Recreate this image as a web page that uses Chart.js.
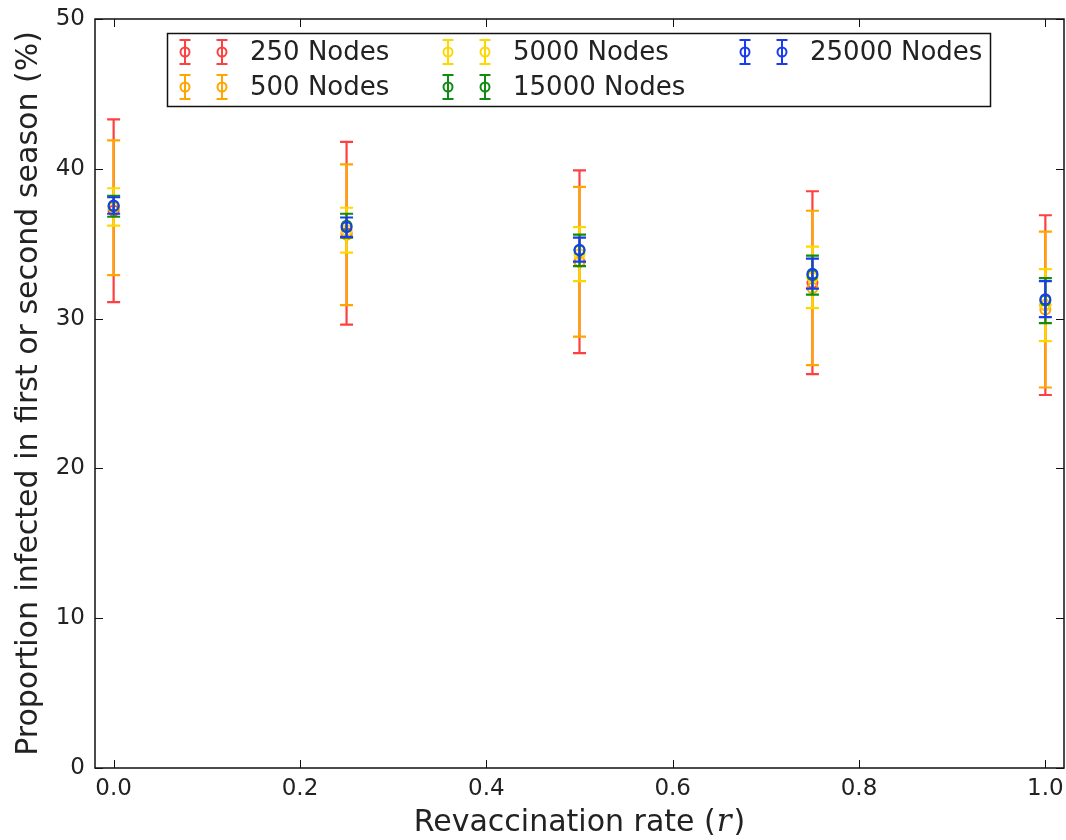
<!DOCTYPE html>
<html>
<head>
<meta charset="utf-8">
<script src="https://cdn.jsdelivr.net/npm/chart.js@4/dist/chart.umd.min.js"></script>
<style>
  html, body { margin: 0; padding: 0; background: #fff; overflow: hidden; }
  #wrap { width: 1071px; height: 840px; position: relative; }
</style>
</head>
<body>
<div id="wrap"><canvas id="errChart"></canvas></div>
<script>
// Revaccination rate on the x axis
const categories = [0.0, 0.25, 0.5, 0.75, 1.0];
const seriesLabels = ['250 Nodes', '500 Nodes', '5000 Nodes', '15000 Nodes', '25000 Nodes'];

// Mean proportion infected (%) and error half-widths per network size
const means250 = [37.2, 35.7, 33.8, 32.4, 30.9];
const errs250 = [6.1, 6.1, 6.1, 6.1, 6.0];
const means500 = [37.4, 35.6, 33.8, 32.05, 30.6];
const errs500 = [4.5, 4.7, 5.0, 5.15, 5.2];
const means5000 = [37.45, 35.9, 34.3, 32.75, 30.9];
const errs5000 = [1.25, 1.5, 1.8, 2.05, 2.4];
const means15000 = [37.5, 36.2, 34.55, 32.9, 31.2];
const errs15000 = [0.7, 0.8, 1.05, 1.3, 1.5];
const means25000 = [37.55, 36.1, 34.6, 33.0, 31.3];
const errs25000 = [0.55, 0.65, 0.8, 1.0, 1.2];

const xTicks = [0.0, 0.2, 0.4, 0.6, 0.8, 1.0];
const yTicks = [0, 10, 20, 30, 40, 50];

const colors = ['#ff4040', '#ffa500', '#ffd700', '#108c10', '#1a3cf0'];
const allMeans = [means250, means500, means5000, means15000, means25000];
const allErrs = [errs250, errs500, errs5000, errs15000, errs25000];

Chart.defaults.font.family = 'DejaVu Sans';
Chart.defaults.color = '#222';

const datasets = seriesLabels.map((label, i) => ({
    label: label,
    data: categories.map((x, j) => ({ x: x, y: allMeans[i][j] })),
    errs: allErrs[i],
    borderColor: colors[i],
    backgroundColor: 'rgba(0,0,0,0)',
    pointRadius: 5,
    pointBorderWidth: 2,
    pointHoverRadius: 5,
    showLine: false,
    order: seriesLabels.length - i
}));

function drawErrorGlyph(ctx, x, yTop, yBot, cap, color, lw) {
    ctx.strokeStyle = color;
    ctx.lineWidth = lw;
    ctx.beginPath();
    ctx.moveTo(x, yTop); ctx.lineTo(x, yBot);
    ctx.moveTo(x - cap, yTop); ctx.lineTo(x + cap, yTop);
    ctx.moveTo(x - cap, yBot); ctx.lineTo(x + cap, yBot);
    ctx.stroke();
}

// error bars are drawn right before their own dataset so stacking follows series order
const errorBars = {
    id: 'errorBars',
    beforeDatasetDraw(chart, args) {
        const ds = chart.data.datasets[args.index];
        const xs = chart.scales.x, ys = chart.scales.y;
        const ctx = chart.ctx;
        ctx.save();
        ds.data.forEach((p, j) => {
            const px = xs.getPixelForValue(p.x);
            const top = ys.getPixelForValue(p.y + ds.errs[j]);
            const bot = ys.getPixelForValue(p.y - ds.errs[j]);
            drawErrorGlyph(ctx, px, top, bot, 6.5, ds.borderColor, 2.2);
        });
        ctx.restore();
    }
};

// frame, inward ticks on all sides, x title and the boxed legend
const decorations = {
    id: 'decorations',
    afterDraw(chart) {
        const ctx = chart.ctx;
        const a = chart.chartArea;
        const xs = chart.scales.x, ys = chart.scales.y;
        ctx.save();

        ctx.strokeStyle = '#111';
        ctx.lineWidth = 1.5;
        ctx.strokeRect(a.left, a.top, a.right - a.left, a.bottom - a.top);

        ctx.lineWidth = 1;
        ctx.beginPath();
        xTicks.forEach(v => {
            const px = Math.round(xs.getPixelForValue(v)) + 0.5;
            ctx.moveTo(px, a.bottom); ctx.lineTo(px, a.bottom - 8);
            ctx.moveTo(px, a.top); ctx.lineTo(px, a.top + 8);
        });
        yTicks.forEach(v => {
            const py = Math.round(ys.getPixelForValue(v)) + 0.5;
            ctx.moveTo(a.left, py); ctx.lineTo(a.left + 8, py);
            ctx.moveTo(a.right, py); ctx.lineTo(a.right - 8, py);
        });
        ctx.stroke();

        // x axis title with italic r
        ctx.fillStyle = '#222';
        ctx.textBaseline = 'alphabetic';
        ctx.textAlign = 'left';
        const part1 = 'Revaccination rate (';
        const part2 = 'r';
        const part3 = ')';
        const sans = '30px "DejaVu Sans"';
        const ital = 'italic 31px "DejaVu Serif"';
        ctx.font = sans;
        const w1 = ctx.measureText(part1).width;
        const w3 = ctx.measureText(part3).width;
        ctx.font = ital;
        const w2 = ctx.measureText(part2).width + 3;
        const cx = (a.left + a.right) / 2;
        const tx = cx - (w1 + w2 + w3) / 2;
        const ty = 831;
        ctx.font = sans;
        ctx.fillText(part1, tx, ty);
        ctx.font = ital;
        ctx.fillText(part2, tx + w1 + 1, ty);
        ctx.font = sans;
        ctx.fillText(part3, tx + w1 + w2, ty);

        // legend
        ctx.fillStyle = '#fff';
        ctx.fillRect(167, 33, 824, 74);
        ctx.strokeStyle = '#111';
        ctx.lineWidth = 1.5;
        ctx.strokeRect(167.5, 33.5, 823, 73);

        const slots = [
            { x: 185, y: 52 }, { x: 185, y: 87 },
            { x: 448, y: 52 }, { x: 448, y: 87 },
            { x: 745, y: 52 }
        ];
        ctx.font = '26px "DejaVu Sans"';
        ctx.textBaseline = 'middle';
        seriesLabels.forEach((label, i) => {
            const s = slots[i];
            [0, 37].forEach(dx => {
                const gx = s.x + dx;
                drawErrorGlyph(ctx, gx, s.y - 12, s.y + 12, 5.5, colors[i], 2);
                ctx.beginPath();
                ctx.arc(gx, s.y, 4.5, 0, Math.PI * 2);
                ctx.stroke();
            });
            ctx.fillStyle = '#222';
            ctx.fillText(label, s.x + 65, s.y + 1);
        });

        ctx.restore();
    }
};

new Chart(document.getElementById('errChart'), {
    type: 'scatter',
    data: { datasets: datasets },
    options: {
        responsive: true,
        maintainAspectRatio: false,
        animation: false,
        events: [],
        layout: { padding: { left: 0, right: 0, top: 19, bottom: 0 } },
        plugins: {
            legend: { display: false },
            tooltip: { enabled: false }
        },
        scales: {
            x: {
                type: 'linear',
                min: -0.02,
                max: 1.02,
                afterBuildTicks: s => { s.ticks = xTicks.map(v => ({ value: v })); },
                afterFit: s => { s.height = 72; },
                grid: { display: false, drawTicks: false },
                border: { display: false },
                ticks: {
                    padding: 7,
                    font: { size: 23 },
                    color: '#222',
                    maxRotation: 0,
                    callback: v => Number(v).toFixed(1)
                }
            },
            y: {
                type: 'linear',
                min: 0,
                max: 50,
                afterBuildTicks: s => { s.ticks = yTicks.map(v => ({ value: v })); },
                afterFit: s => { s.width = 95; s.paddingTop = 0; s.paddingBottom = 0; },
                grid: { display: false, drawTicks: false },
                border: { display: false },
                ticks: {
                    padding: 10,
                    font: { size: 23 },
                    color: '#222'
                },
                title: {
                    display: true,
                    text: 'Proportion infected in first or second season (%)',
                    font: { size: 30 },
                    color: '#222',
                    padding: { top: 11, bottom: 0 }
                }
            }
        }
    },
    plugins: [errorBars, decorations]
});
</script>
</body>
</html>
